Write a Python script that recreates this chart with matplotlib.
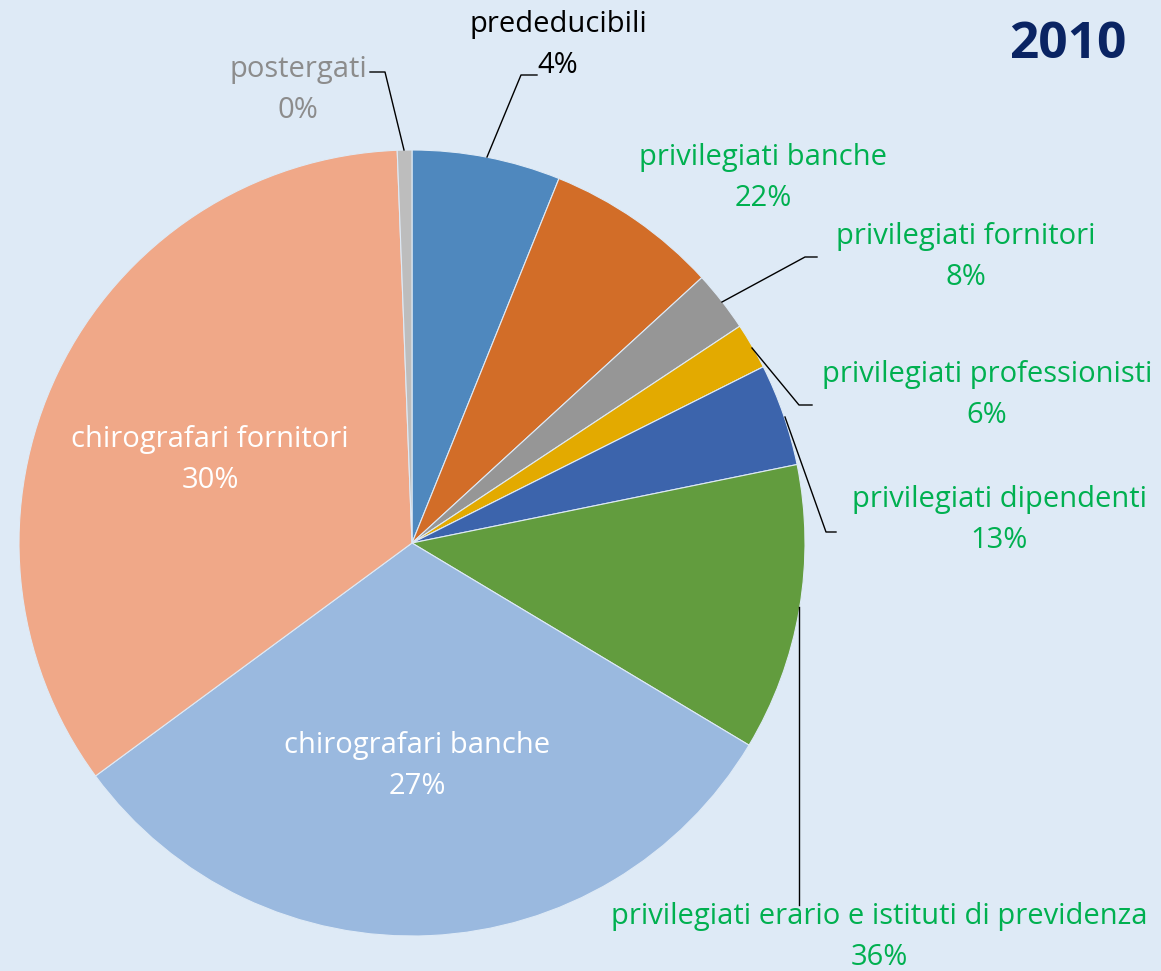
import matplotlib
matplotlib.use("Agg")
import matplotlib.pyplot as plt

# slice sizes (share of the circle)
names = ["prededucibili", "privilegiati banche", "privilegiati fornitori",
         "privilegiati professionisti", "privilegiati dipendenti",
         "privilegiati erario e istituti di previdenza",
         "chirografari banche", "chirografari fornitori", "postergati"]
sizes = [6.1, 7.1, 2.5, 1.9, 4.2, 11.8, 31.3, 34.5, 0.6]
# percentages as printed in the labels
pct_labels = ["4%", "22%", "8%", "6%", "13%", "36%", "27%", "30%", "0%"]

colors = ["#4F88BE", "#D26D28", "#969696", "#E3AA00", "#3C64AC",
          "#629C3E", "#9AB9DF", "#F0A888", "#BDBDBD"]
label_colors = ["black", "#00B050", "#00B050", "#00B050", "#00B050",
                "#00B050", "white", "white", "#8C8C8C"]

W, H = 1161, 971
bg = "#DEEAF6"
fig = plt.figure(figsize=(W / 100, H / 100), dpi=100, facecolor=bg)
ax = fig.add_axes([0, 0, 1, 1])
ax.set_facecolor(bg)

cx, cy, r = 412, H - 543, 393
ax.pie(sizes, colors=colors, startangle=90, counterclock=False,
       center=(cx, cy), radius=r, frame=True,
       wedgeprops=dict(linewidth=0.8, edgecolor=bg))
ax.set_xlim(0, W)
ax.set_ylim(0, H)
ax.set_aspect("equal")
ax.axis("off")

# label positions (pixel coords from top) and leader lines
pos = [(558, 45), (763, 178), (966, 257), (987, 395), (999, 520),
       (879, 937), (417, 766), (210, 460), (298, 90)]
leaders = {
    0: [(537, 75), (521, 75), (487, 157)],
    2: [(817, 257), (805, 257), (722, 302)],
    3: [(812, 405), (799, 405), (752, 348)],
    4: [(836, 532), (826, 532), (785, 417)],
    5: [(799, 607), (799, 905)],
    8: [(370, 72), (385, 72), (404, 150)],
}

for i, (x, y) in enumerate(pos):
    ax.text(x, H - y, names[i] + "\n" + pct_labels[i], ha="center",
            va="center", fontsize=21, color=label_colors[i],
            family="Open Sans", linespacing=1.52)

for pts in leaders.values():
    ax.plot([p[0] for p in pts], [H - p[1] for p in pts],
            color="black", lw=1)

ax.text(1068, H - 45, "2010", ha="center", va="center", fontsize=37,
        fontweight="bold", color="#0A2463", family="Open Sans")

fig.savefig("out.png", dpi=100, facecolor=bg)
